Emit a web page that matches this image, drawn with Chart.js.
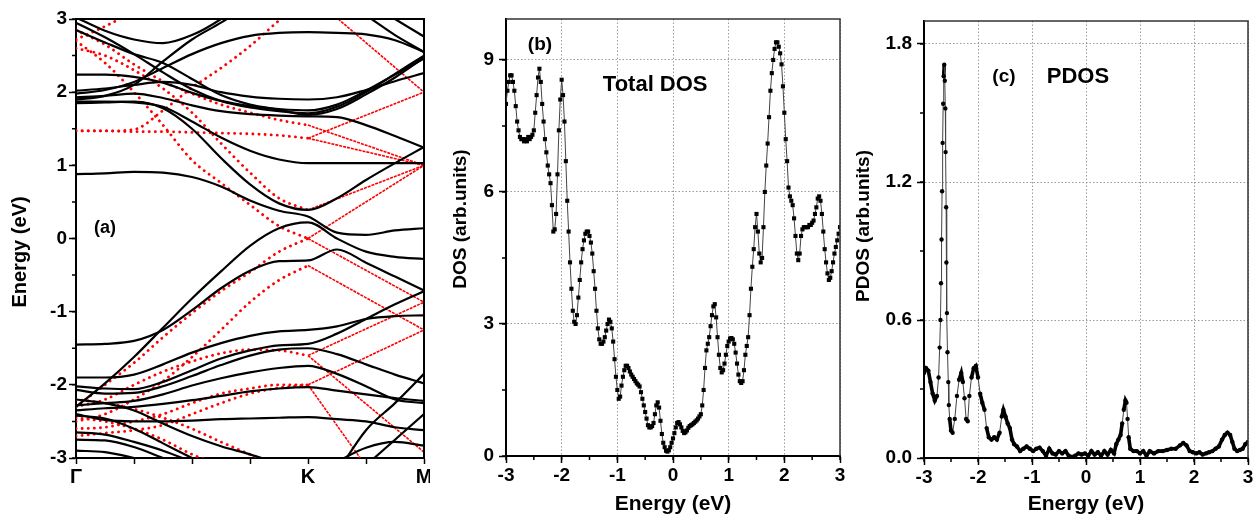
<!DOCTYPE html>
<html>
<head>
<meta charset="utf-8">
<script src="https://cdn.jsdelivr.net/npm/chart.js@4.4.1/dist/chart.umd.min.js"></script>
<style>
  body { margin: 0; background: #fff; }
  #wrap { position: relative; width: 1259px; height: 520px; }
  canvas { position: absolute; top: 0; }
</style>
</head>
<body>
<div id="wrap">
  <canvas id="bands" width="430" height="520" style="left:0px"></canvas>
  <canvas id="dos" width="420" height="520" style="left:430px"></canvas>
  <canvas id="pdos" width="409" height="520" style="left:850px"></canvas>
</div>
<script>
// (a) band structure along Γ-K-M, energies in eV at each k point
const kPath = [0, 0.5, 1, 1.5, 2, 2.5, 3, 3.5, 4, 4.5, 5, 5.5, 6]
const pathTicks = [0, 1, 2, 3, 4, 5, 6]
const pathLabels = ["Γ", "", "", "", "K", "", "M"]

const blackBands = [
  [2.95, 2.75, 2.52, 2.27, 2.04, 1.88, 1.79, 1.74, 1.71, 1.8, 2.0, 2.25, 2.5],
  [2.85, 2.68, 2.52, 2.4, 2.18, 1.96, 1.83, 1.76, 1.69, 1.77, 1.97, 2.2, 2.47],
  [1.93, 1.95, 1.98, 1.92, 1.82, 1.74, 1.7, 1.68, 1.67, 1.66, 1.55, 1.4, 1.24],
  [2.02, 2.05, 2.1, 2.14, 2.1, 2.0, 1.94, 1.91, 1.9, 1.93, 2.03, 2.15, 2.26],
  [2.24, 2.24, 2.21, 2.13, 1.99, 1.88, 1.81, 1.77, 1.75, 1.83, 2.02, 2.24, 2.46],
  [1.98, 2.03, 2.14, 2.33, 2.52, 2.67, 2.77, 2.81, 2.82, 2.81, 2.79, 2.71, 2.55],
  [3.02, 2.84, 2.72, 2.67, 2.78, 3.0, 3.3, null, null, null, null, null, null],
  [1.9, 1.95, 2.1, 2.42, 2.72, 2.95, 3.2, null, null, null, null, null, null],
  [1.85, 1.86, 1.87, 1.78, 1.5, 1.1, 0.74, 0.48, 0.39, 0.55, 0.8, 1.03, 1.25],
  [1.87, 1.87, 1.86, 1.8, 1.6, 1.38, 1.2, 1.08, 1.03, 1.03, 1.03, 1.03, 1.03],
  [0.88, 0.89, 0.91, 0.9, 0.84, 0.71, 0.52, 0.38, 0.3, 0.08, 0.05, 0.11, 0.14],
  [-2.3, -1.98, -1.62, -1.22, -0.82, -0.45, -0.1, 0.14, 0.22, 0.0, -0.18, -0.25, -0.28],
  [-1.45, -1.44, -1.4, -1.25, -0.98, -0.68, -0.44, -0.31, -0.3, -0.15, -0.33, -0.52, -0.71],
  [-1.9, -1.9, -1.86, -1.72, -1.56, -1.43, -1.33, -1.27, -1.25, -1.2, -1.1, -1.06, -1.05],
  [-2.02, -2.05, -2.06, -1.96, -1.8, -1.64, -1.53, -1.46, -1.44, -1.3, -1.1, -0.9, -0.72],
  [-2.07, -2.12, -2.11, -2.02, -1.88, -1.73, -1.6, -1.52, -1.5, -1.58, -1.72, -1.86, -1.98],
  [-2.28, -2.25, -2.22, -2.13, -2.01, -1.91, -1.83, -1.77, -1.74, -1.85, -2.02, -2.2, -2.25],
  [-2.35, -2.32, -2.3, -2.26, -2.21, -2.15, -2.09, -2.05, -2.03, -2.08, -2.13, -2.18, -2.22],
  [-2.4, -2.48, -2.5, -2.5, -2.49, -2.47, -2.46, -2.45, -2.44, -2.47, -2.5, -2.58, -2.62],
  [-2.2, -2.25, -2.35, -2.53, -2.7, -2.84, -2.95, -3.08, null, null, null, null, null],
  [-2.42, -2.46, -2.6, -2.8, -3.0, -3.2, null, null, null, null, null, null, null],
  [-2.65, -2.68, -2.78, -2.9, -3.05, null, null, null, null, null, null, null, null],
  [-2.75, -2.76, -2.85, -3.0, -3.15, null, null, null, null, null, null, null, null],
  [-2.9, -2.92, -3.0, -3.1, null, null, null, null, null, null, null, null, null],
  [null, null, null, null, null, null, null, null, null, -3.2, -2.62, -2.25, -1.85],
  [null, null, null, null, null, null, null, null, null, null, -3.1, -2.75, -2.4],
  [null, null, null, null, null, null, null, null, null, -3.05, -2.86, -2.78, -2.83],
  [null, null, null, null, null, null, null, null, null, 3.3, 3.05, 2.78, 2.55],
  [null, null, null, null, null, null, null, null, null, null, 3.25, 3.0, 2.76],
]

// red dotted bands from Γ to K (first 9 k points)
const redBands = [
  [1.47, 1.47, 1.46, 1.46, 1.45, 1.44, 1.43, 1.41, 1.37],
  [1.47, 1.47, 1.49, 1.75, 2.06, 2.33, 2.63, 2.98, 3.3],
  [2.85, 2.65, 2.38, 2.15, 1.98, 1.83, 1.72, 1.62, 1.55],
  [2.7, 2.4, 2.0, 1.55, 1.07, 0.76, 0.46, 0.17, 0.0],
  [2.6, 2.5, 2.3, 2.05, 1.72, 1.3, 0.9, 0.55, 0.39],
  [-2.5, -2.4, -2.2, -1.95, -1.62, -1.25, -0.87, -0.57, -0.37],
  [-2.3, -2.0, -1.7, -1.35, -1.02, -0.72, -0.46, -0.18, 0.0],
  [-2.3, -2.2, -2.0, -1.82, -1.68, -1.57, -1.52, -1.53, -1.6],
  [-2.6, -2.58, -2.5, -2.4, -2.25, -2.12, -2.05, -2.0, -2.0],
  [-2.7, -2.66, -2.62, -2.55, -2.4, -2.25, -2.12, -2.04, -2.0],
  [-2.2, -2.25, -2.33, -2.45, -2.6, -2.78, -2.95, -3.1, null],
  [-2.45, -2.5, -2.6, -2.75, -2.95, -3.1, null, null, null],
  [2.72, 2.9, 3.1, null, null, null, null, null, null],
]

// red straight branches K -> M: [k start, E start, k end, E end]
const redKM = [
  [4, 1.55, 6, 1.0],
  [4, 1.37, 6, 1.0],
  [4, 1.37, 6, 2.0],
  [4.52, 3.0, 6, 2.0],
  [4, 0.39, 6, 1.0],
  [4, 0.0, 6, 1.0],
  [4, 0.0, 6, -0.87],
  [4, -0.37, 6, -1.25],
  [4, -1.6, 6, -0.87],
  [4, -2.0, 6, -1.25],
  [4, -1.6, 6, -2.92],
  [4, -2.0, 4.9, -3.0],
]

// (b) total DOS, read every 0.025 eV
const dosEnergy = [
  -3, -2.975, -2.95, -2.925, -2.9, -2.875, -2.85, -2.825, -2.8, -2.775,
  -2.75, -2.725, -2.7, -2.675, -2.65, -2.625, -2.6, -2.575, -2.55, -2.525,
  -2.5, -2.475, -2.45, -2.425, -2.4, -2.375, -2.35, -2.325, -2.3, -2.275,
  -2.25, -2.225, -2.2, -2.175, -2.15, -2.125, -2.1, -2.075, -2.05, -2.025,
  -2, -1.975, -1.95, -1.925, -1.9, -1.875, -1.85, -1.825, -1.8, -1.775,
  -1.75, -1.725, -1.7, -1.675, -1.65, -1.625, -1.6, -1.575, -1.55, -1.525,
  -1.5, -1.475, -1.45, -1.425, -1.4, -1.375, -1.35, -1.325, -1.3, -1.275,
  -1.25, -1.225, -1.2, -1.175, -1.15, -1.125, -1.1, -1.075, -1.05, -1.025,
  -1, -0.975, -0.95, -0.925, -0.9, -0.875, -0.85, -0.825, -0.8, -0.775,
  -0.75, -0.725, -0.7, -0.675, -0.65, -0.625, -0.6, -0.575, -0.55, -0.525,
  -0.5, -0.475, -0.45, -0.425, -0.4, -0.375, -0.35, -0.325, -0.3, -0.275,
  -0.25, -0.225, -0.2, -0.175, -0.15, -0.125, -0.1, -0.075, -0.05, -0.025,
  0, 0.025, 0.05, 0.075, 0.1, 0.125, 0.15, 0.175, 0.2, 0.225,
  0.25, 0.275, 0.3, 0.325, 0.35, 0.375, 0.4, 0.425, 0.45, 0.475,
  0.5, 0.525, 0.55, 0.575, 0.6, 0.625, 0.65, 0.675, 0.7, 0.725,
  0.75, 0.775, 0.8, 0.825, 0.85, 0.875, 0.9, 0.925, 0.95, 0.975,
  1, 1.025, 1.05, 1.075, 1.1, 1.125, 1.15, 1.175, 1.2, 1.225,
  1.25, 1.275, 1.3, 1.325, 1.35, 1.375, 1.4, 1.425, 1.45, 1.475,
  1.5, 1.525, 1.55, 1.575, 1.6, 1.625, 1.65, 1.675, 1.7, 1.725,
  1.75, 1.775, 1.8, 1.825, 1.85, 1.875, 1.9, 1.925, 1.95, 1.975,
  2, 2.025, 2.05, 2.075, 2.1, 2.125, 2.15, 2.175, 2.2, 2.225,
  2.25, 2.275, 2.3, 2.325, 2.35, 2.375, 2.4, 2.425, 2.45, 2.475,
  2.5, 2.525, 2.55, 2.575, 2.6, 2.625, 2.65, 2.675, 2.7, 2.725,
  2.75, 2.775, 2.8, 2.825, 2.85, 2.875, 2.9, 2.925, 2.95, 2.975, 3]
const dosValues = [
  8.0, 8.3, 8.5, 8.65, 8.65, 8.5, 8.3, 7.95, 7.6, 7.4,
  7.25, 7.2, 7.2, 7.15, 7.2, 7.15, 7.25, 7.2, 7.25, 7.3,
  7.4, 7.8, 8.2, 8.6, 8.8, 8.5, 8.0, 7.6, 7.2, 6.9,
  6.6, 6.4, 6.2, 5.7, 5.1, 5.15, 5.5, 6.4, 7.4, 8.1,
  8.55, 8.2, 7.6, 6.7, 5.8, 5.1, 4.4, 3.8, 3.3, 3.05,
  3.0, 3.2, 3.6, 4.0, 4.4, 4.7, 4.9, 5.05, 5.1, 5.1,
  5.0, 4.85, 4.6, 4.2, 3.8, 3.3, 2.9, 2.65, 2.55, 2.55,
  2.6, 2.7, 2.85, 3.0, 3.1, 3.05, 2.9, 2.6, 2.2, 1.8,
  1.5, 1.3, 1.35, 1.6, 1.8, 1.95, 2.05, 2.05, 2.0, 1.92,
  1.85, 1.8, 1.75, 1.7, 1.65, 1.62, 1.58, 1.45, 1.3, 1.15,
  1.0, 0.85, 0.7, 0.65, 0.65, 0.68, 0.75, 0.95, 1.15, 1.22,
  1.1, 0.8, 0.5, 0.3, 0.2, 0.12, 0.1, 0.13, 0.2, 0.3,
  0.4, 0.52, 0.65, 0.75, 0.77, 0.72, 0.65, 0.57, 0.52, 0.54,
  0.58, 0.64, 0.68, 0.7, 0.72, 0.75, 0.78, 0.81, 0.85, 0.9,
  0.95, 1.15, 1.5, 2.0, 2.4, 2.55, 2.7, 2.95, 3.2, 3.4,
  3.45, 3.15, 2.7, 2.3, 2.0, 1.9, 1.95, 2.1, 2.3, 2.5,
  2.6, 2.67, 2.68, 2.65, 2.55, 2.35, 2.1, 1.85, 1.7, 1.66,
  1.7, 1.95, 2.3, 2.5, 2.7, 3.2, 3.8, 4.3, 4.7, 5.2,
  5.5, 5.1, 4.6, 4.4, 4.5, 5.2, 6.0, 6.6, 7.1, 7.7,
  8.3, 8.7, 9.0, 9.25, 9.4, 9.4, 9.3, 9.15, 8.9, 8.4,
  7.8, 7.2, 6.7, 6.1, 5.9, 5.8, 5.7, 5.4, 5.0, 4.6,
  4.45, 4.6, 5.0, 5.15, 5.2, 5.2, 5.2, 5.2, 5.25, 5.25,
  5.3, 5.35, 5.5, 5.65, 5.85, 5.9, 5.8, 5.5, 5.1, 4.7,
  4.4, 4.15, 4.0, 4.05, 4.2, 4.4, 4.6, 4.75, 4.9, 5.05, 5.2]

// (c) PDOS
const pdosEnergy = [-3, -2.96, -2.92, -2.88, -2.84, -2.8, -2.76, -2.73, -2.71, -2.695,
  -2.685, -2.675, -2.665, -2.655, -2.645, -2.635, -2.625, -2.615, -2.605, -2.6,
  -2.59, -2.585, -2.575, -2.565, -2.55, -2.54, -2.525, -2.5, -2.47, -2.43,
  -2.39, -2.35, -2.31, -2.28, -2.25, -2.22, -2.19, -2.16, -2.12, -2.08,
  -2.04, -2, -1.96, -1.92, -1.88, -1.84, -1.8, -1.75, -1.7, -1.65,
  -1.6, -1.56, -1.53, -1.49, -1.45, -1.41, -1.37, -1.33, -1.28, -1.22,
  -1.16, -1.1, -1.04, -0.98, -0.92, -0.86, -0.8, -0.74, -0.68, -0.62,
  -0.56, -0.5, -0.44, -0.38, -0.32, -0.26, -0.2, -0.14, -0.08, -0.02,
  0.04, 0.1, 0.16, 0.22, 0.28, 0.34, 0.4, 0.46, 0.52, 0.56,
  0.6, 0.64, 0.67, 0.7, 0.73, 0.75, 0.77, 0.79, 0.82, 0.88,
  0.94, 1, 1.06, 1.12, 1.18, 1.26, 1.34, 1.42, 1.5, 1.58,
  1.66, 1.74, 1.8, 1.86, 1.92, 1.98, 2.04, 2.1, 2.16, 2.22,
  2.28, 2.34, 2.4, 2.46, 2.52, 2.57, 2.62, 2.67, 2.71, 2.75,
  2.8, 2.85, 2.9, 2.95, 3]
const pdosValues = [0.37, 0.39, 0.38, 0.33, 0.28, 0.25, 0.27, 0.35, 0.48, 0.6,
  0.76, 0.95, 1.16, 1.37, 1.54, 1.66, 1.71, 1.64, 1.52, 1.33,
  1.09, 0.85, 0.63, 0.46, 0.33, 0.23, 0.17, 0.12, 0.11, 0.17,
  0.27, 0.34, 0.37, 0.33, 0.26, 0.17, 0.16, 0.27, 0.35, 0.39,
  0.4, 0.35, 0.28, 0.24, 0.21, 0.13, 0.09, 0.08, 0.09, 0.08,
  0.11, 0.18, 0.21, 0.18, 0.15, 0.13, 0.08, 0.06, 0.05, 0.03,
  0.04, 0.05, 0.04, 0.03, 0.04, 0.045, 0.03, 0.01, 0.04, 0.02,
  0.015, 0.03, 0.02, 0.03, 0.01, 0.005, 0.01, 0.02, 0.015, 0.02,
  0.01, 0.03, 0.015, 0.025, 0.01, 0.03, 0.015, 0.035, 0.02, 0.06,
  0.08, 0.1, 0.15, 0.21, 0.25, 0.24, 0.17, 0.09, 0.04, 0.03,
  0.03, 0.02, 0.03, 0.01, 0.03, 0.02, 0.03, 0.03, 0.035, 0.04,
  0.04, 0.055, 0.065, 0.055, 0.03, 0.025, 0.02, 0.025, 0.015, 0.02,
  0.025, 0.03, 0.04, 0.05, 0.08, 0.1, 0.11, 0.1, 0.07, 0.04,
  0.03, 0.035, 0.04, 0.06, 0.07]

const FONT = "'Liberation Sans', Arial, sans-serif"
Chart.defaults.font.family = FONT
Chart.defaults.font.weight = "bold"
Chart.defaults.color = "#000"
Chart.defaults.animation = false
Chart.defaults.plugins.legend.display = false
Chart.defaults.plugins.tooltip.enabled = false

// minor ticks, top/right frame and in-plot text for one chart
function makeExtras(opts) {
  return {
    id: "panelExtras",
    afterDraw(chart) {
      const { ctx, chartArea: area, scales } = chart
      ctx.save()
      ctx.strokeStyle = "#000"
      ctx.lineWidth = 1.5
      for (const m of opts.minor) {
        const s = scales[m.axis]
        const n = Math.floor((s.max - s.min) / m.step + 1e-6)
        ctx.beginPath()
        for (let i = 0; i <= n; i++) {
          const p = s.getPixelForValue(s.min + i * m.step)
          if (s.isHorizontal()) {
            ctx.moveTo(p, area.bottom)
            ctx.lineTo(p, area.bottom + m.len)
          } else {
            ctx.moveTo(area.left, p)
            ctx.lineTo(area.left - m.len, p)
          }
        }
        ctx.stroke()
      }
      ctx.strokeStyle = opts.frame.color
      ctx.lineWidth = opts.frame.width
      ctx.beginPath()
      ctx.moveTo(area.left, area.top)
      ctx.lineTo(area.right, area.top)
      ctx.lineTo(area.right, area.bottom)
      ctx.stroke()
      ctx.fillStyle = "#000"
      ctx.textAlign = "center"
      ctx.textBaseline = "middle"
      for (const t of opts.notes) {
        ctx.font = "bold " + t.size + "px " + FONT
        const x = t.at ? scales.x.getPixelForValue(t.at[0]) : t.px
        const y = t.at ? scales.y.getPixelForValue(t.at[1]) : t.py
        ctx.save()
        ctx.translate(x, y)
        if (t.rotate) ctx.rotate(-Math.PI / 2)
        ctx.fillText(t.text, 0, 0)
        ctx.restore()
      }
      ctx.restore()
    },
  }
}

function fixedBox(size) {
  return (scale) => {
    if (scale.isHorizontal()) scale.height = size
    else scale.width = size
    scale.paddingLeft = 0
    scale.paddingRight = 0
    scale.paddingTop = 0
    scale.paddingBottom = 0
  }
}

function keepMultiples(step) {
  return (scale) => {
    scale.ticks = scale.ticks.filter((t) => Math.abs(t.value / step - Math.round(t.value / step)) < 1e-6)
  }
}

// ---- (a) bands
const bandSets = []
blackBands.forEach((b) => {
  bandSets.push({
    data: kPath.map((k, i) => ({ x: k, y: b[i] })),
    borderColor: "#000",
    borderWidth: 2.2,
    pointRadius: 0,
    cubicInterpolationMode: "monotone",
  })
})
redBands.forEach((b) => {
  bandSets.push({
    data: b.map((e, i) => ({ x: kPath[i], y: e })),
    borderColor: "#f00",
    borderWidth: 2.8,
    borderDash: [0.1, 6],
    borderCapStyle: "round",
    pointRadius: 0,
    cubicInterpolationMode: "monotone",
  })
})
redKM.forEach((s) => {
  bandSets.push({
    data: [{ x: s[0], y: s[1] }, { x: s[2], y: s[3] }],
    borderColor: "#f00",
    borderWidth: 1.6,
    borderDash: [3, 1],
    pointRadius: 0,
  })
})

new Chart(document.getElementById("bands"), {
  type: "line",
  data: { datasets: bandSets },
  options: {
    responsive: false,
    layout: { padding: { top: 19, right: 6, left: 0, bottom: 0 } },
    scales: {
      x: {
        type: "linear",
        min: 0,
        max: 6,
        afterFit: fixedBox(62),
        ticks: {
          stepSize: 1,
          autoSkip: false,
          maxRotation: 0,
          padding: 1,
          font: { size: 20 },
          callback: (v) => pathLabels[pathTicks.indexOf(v)],
        },
        grid: { drawOnChartArea: false, tickLength: 6, tickColor: "#000", tickWidth: 1.5 },
        border: { color: "#000", width: 2 },
      },
      y: {
        type: "linear",
        min: -3,
        max: 3,
        afterFit: fixedBox(76),
        ticks: { stepSize: 1, padding: 2, font: { size: 19 } },
        grid: { drawOnChartArea: false, tickLength: 7, tickColor: "#000", tickWidth: 1.5 },
        border: { color: "#000", width: 2 },
      },
    },
  },
  plugins: [makeExtras({
    minor: [{ axis: "y", step: 0.5, len: 4 }],
    frame: { color: "#000", width: 2 },
    notes: [
      { text: "(a)", at: [0.5, 0.14], size: 18 },
      { text: "Energy (eV)", px: 20, py: 252, size: 20, rotate: true },
    ],
  })],
})

// ---- (b) and (c) share the same look
function segLength(c) {
  return Math.hypot(c.p1.x - c.p0.x, c.p1.y - c.p0.y)
}

function dosChart(id, energy, values, cfg) {
  return new Chart(document.getElementById(id), {
    type: "line",
    data: {
      datasets: [{
        data: energy.map((e, i) => ({ x: e, y: values[i] })),
        borderColor: "#444",
        borderWidth: 1,
        // short steps read as a solid run of markers, long steep ones as a thin line
        segment: {
          borderWidth: (c) => (segLength(c) < cfg.runLen ? cfg.thick : 1),
          borderColor: (c) => (segLength(c) < cfg.runLen ? "#000" : "#444"),
        },
        pointStyle: cfg.marker,
        pointRadius: cfg.markerSize,
        pointBackgroundColor: "#000",
        pointBorderWidth: 0,
        tension: 0,
      }],
    },
    options: {
      responsive: false,
      layout: { padding: { top: cfg.top, right: cfg.right, left: 0, bottom: 0 } },
      scales: {
        x: {
          type: "linear",
          min: -3,
          max: 3,
          afterFit: fixedBox(cfg.xBox),
          ticks: { stepSize: 1, padding: 1, maxRotation: 0, font: { size: 19 } },
          title: { display: true, text: "Energy (eV)", font: { size: 21 }, padding: { top: 0, bottom: 3 } },
          grid: { color: "#9a9a9a", lineWidth: 1, tickLength: 7, tickColor: "#000", tickWidth: 1.5 },
          border: { color: "#000", width: 2, dash: [1.5, 2] },
        },
        y: {
          type: "linear",
          min: 0,
          max: cfg.yMax,
          afterFit: fixedBox(cfg.yBox),
          afterBuildTicks: keepMultiples(cfg.yStep),
          ticks: { stepSize: cfg.yStep, padding: 5, font: { size: 19 }, callback: cfg.yFormat },
          grid: { color: "#9a9a9a", lineWidth: 1, tickLength: 7, tickColor: "#000", tickWidth: 1.5 },
          border: { color: "#000", width: 2, dash: [1.5, 2] },
        },
      },
    },
    plugins: [makeExtras({
      minor: [{ axis: "x", step: 0.5, len: 4 }, { axis: "y", step: cfg.yStep / 2, len: 4 }],
      frame: { color: "#333", width: 1.5 },
      notes: cfg.notes,
    })],
  })
}

dosChart("dos", dosEnergy, dosValues, {
  marker: "rect",
  markerSize: 2.9,
  thick: 1,
  runLen: 0,
  top: 19,
  right: 10,
  xBox: 64,
  yBox: 76,
  yMax: 9.93,
  yStep: 3,
  yFormat: (v) => v,
  notes: [
    { text: "(b)", at: [-2.39, 9.34], size: 19 },
    { text: "Total DOS", at: [-0.32, 8.43], size: 22 },
    { text: "DOS (arb.units)", px: 31, py: 219, size: 19, rotate: true },
  ],
})

dosChart("pdos", pdosEnergy, pdosValues, {
  marker: "circle",
  markerSize: 2.2,
  thick: 3.6,
  runLen: 12,
  top: 21,
  right: 11,
  xBox: 62,
  yBox: 74,
  yMax: 1.9,
  yStep: 0.6,
  yFormat: (v) => v.toFixed(1),
  notes: [
    { text: "(c)", at: [-1.52, 1.657], size: 19 },
    { text: "PDOS", at: [-0.15, 1.657], size: 22 },
    { text: "PDOS (arb.units)", px: 14, py: 226, size: 19, rotate: true },
  ],
})
</script>
</body>
</html>
